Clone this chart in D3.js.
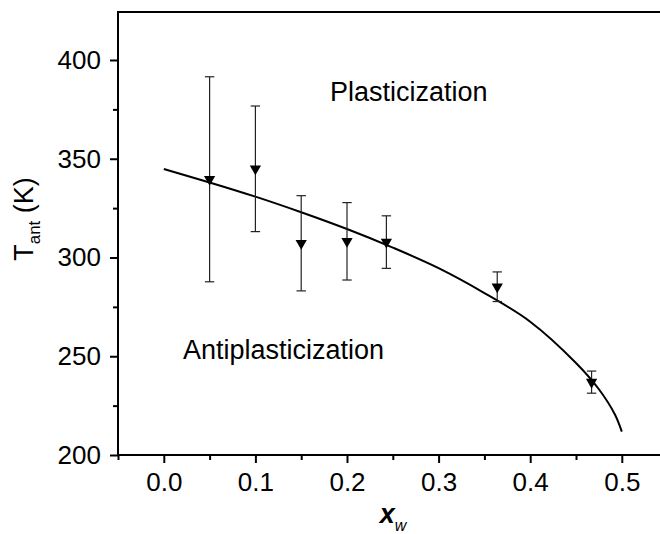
<!DOCTYPE html>
<html>
<head>
<meta charset="utf-8">
<script src="https://cdn.jsdelivr.net/npm/d3@7"></script>
<style>
  body { margin: 0; background: #fff; }
  text { font-family: "Liberation Sans", Arial, Helvetica, sans-serif; }
</style>
</head>
<body>
<div id="vis"></div>
<script>
// measured points with error bars
let xw = [0.05, 0.10, 0.15, 0.20, 0.243, 0.364, 0.467];
let tant = [339.6, 344.9, 307.2, 308.2, 307.8, 285.2, 236.9];
let tantErr = [51.9, 31.8, 24.1, 19.6, 13.3, 7.5, 5.6];

// fitted curve
let fitX = [0, 0.05, 0.1, 0.15, 0.2, 0.25, 0.3, 0.35, 0.4, 0.45, 0.475, 0.4925, 0.5];
let fitT = [344.8, 338.0, 330.8, 322.9, 314.4, 305.0, 294.6, 282.0, 267.5, 246.6, 233.3, 220.5, 211.8];

let xTicks = [0.0, 0.1, 0.2, 0.3, 0.4, 0.5];
let xMinor = [-0.05, 0.05, 0.15, 0.25, 0.35, 0.45];
let yTicks = [200, 250, 300, 350, 400];
let yMinor = [225, 275, 325, 375];

let W = 660, H = 534;
let pLeft = 118, pRight = 667.6, pTop = 12, pBottom = 455;

let svg = d3.select('#vis')
  .append('svg')
  .attr('width', W)
  .attr('height', H)
  .style('background-color', '#fff');

let x = d3.scaleLinear().domain([-0.05, 0.55]).range([pLeft, pRight]);
let y = d3.scaleLinear().domain([200, 424.3]).range([pBottom, pTop]);

// frame
svg.append('rect')
  .attr('x', pLeft).attr('y', pTop)
  .attr('width', pRight - pLeft).attr('height', pBottom - pTop)
  .attr('fill', 'none').attr('stroke', '#000').attr('stroke-width', 2);

// x axis
svg.append('g')
  .attr('transform', `translate(0,${pBottom})`)
  .call(d3.axisBottom(x).tickValues(xTicks).tickFormat(d3.format('.1f')).tickSize(8).tickPadding(10));
svg.append('g')
  .attr('transform', `translate(0,${pBottom})`)
  .call(d3.axisBottom(x).tickValues(xMinor).tickFormat('').tickSize(5));

// y axis
svg.append('g')
  .attr('transform', `translate(${pLeft},0)`)
  .call(d3.axisLeft(y).tickValues(yTicks).tickSize(8).tickPadding(9));
svg.append('g')
  .attr('transform', `translate(${pLeft},0)`)
  .call(d3.axisLeft(y).tickValues(yMinor).tickFormat('').tickSize(5));

svg.selectAll('.domain').remove();
svg.selectAll('.tick line').attr('stroke', '#000').attr('stroke-width', 2);
svg.selectAll('.tick text')
  .attr('fill', '#000')
  .style('font-size', '26px');

// axis titles
svg.append('text')
  .attr('transform', 'translate(33,219) rotate(-90)')
  .attr('text-anchor', 'middle')
  .style('font-size', '27px')
  .html('T<tspan dy="7" font-size="17">ant</tspan><tspan dy="-7"> (K)</tspan>');

svg.append('text')
  .attr('x', 393)
  .attr('y', 523)
  .attr('text-anchor', 'middle')
  .style('font-size', '27px')
  .style('font-weight', 'bold')
  .style('font-style', 'italic')
  .html('x<tspan dy="8" font-size="16" font-weight="normal">w</tspan>');

// region labels
svg.append('text')
  .attr('x', 330).attr('y', 101)
  .style('font-size', '27px')
  .text('Plasticization');

svg.append('text')
  .attr('x', 183).attr('y', 359)
  .style('font-size', '27px')
  .text('Antiplasticization');

// fitted curve
let line = d3.line()
  .x((d, i) => x(fitX[i]))
  .y(d => y(d))
  .curve(d3.curveCatmullRom.alpha(0.5));

svg.append('path')
  .datum(fitT)
  .attr('d', line)
  .attr('fill', 'none')
  .attr('stroke', '#000')
  .attr('stroke-width', 2);

// error bars
let pts = xw.map((d, i) => ({x: d, t: tant[i], e: tantErr[i]}));
let eb = svg.append('g').attr('stroke', '#222').attr('stroke-width', 1.2);
eb.selectAll('.stem').data(pts).join('line')
  .attr('x1', d => x(d.x)).attr('x2', d => x(d.x))
  .attr('y1', d => y(d.t + d.e)).attr('y2', d => y(d.t - d.e));
eb.selectAll('.capT').data(pts).join('line')
  .attr('x1', d => x(d.x) - 4.7).attr('x2', d => x(d.x) + 4.7)
  .attr('y1', d => y(d.t + d.e)).attr('y2', d => y(d.t + d.e));
eb.selectAll('.capB').data(pts).join('line')
  .attr('x1', d => x(d.x) - 4.7).attr('x2', d => x(d.x) + 4.7)
  .attr('y1', d => y(d.t - d.e)).attr('y2', d => y(d.t - d.e));

// markers
svg.append('g').selectAll('path').data(pts).join('path')
  .attr('d', d3.symbol().type(d3.symbolTriangle).size(55))
  .attr('transform', d => `translate(${x(d.x)},${y(d.t)}) rotate(180)`)
  .attr('fill', '#000');
</script>
</body>
</html>
